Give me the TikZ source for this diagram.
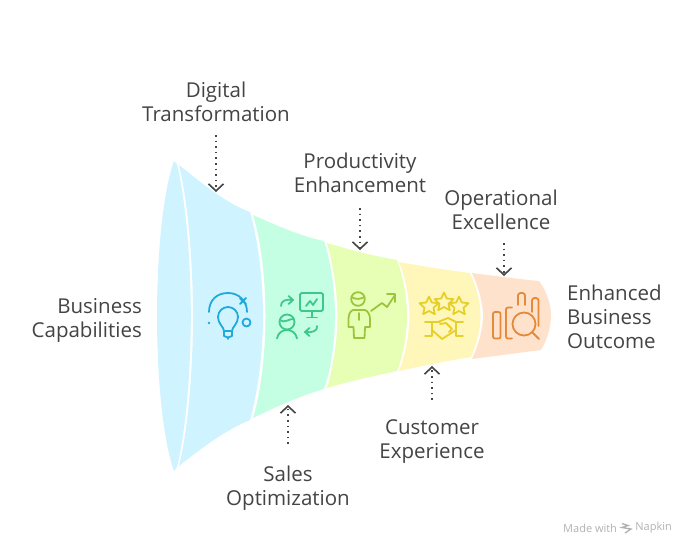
\documentclass[tikz,border=0pt]{standalone}
\usepackage{fontspec}
\setmainfont{Open Sans}
\usetikzlibrary{arrows.meta}
\definecolor{cblue}{HTML}{D0F4FF}
\definecolor{cgreen}{HTML}{C5FFE3}
\definecolor{clime}{HTML}{E6FFB5}
\definecolor{cyel}{HTML}{FFF7B9}
\definecolor{corg}{HTML}{FFE2CB}
\definecolor{iblue}{HTML}{1FA9DC}
\definecolor{igreen}{HTML}{3CC98B}
\definecolor{ilime}{HTML}{9CC53D}
\definecolor{iyel}{HTML}{E6CF2A}
\definecolor{iorg}{HTML}{E5893B}
\definecolor{ink}{HTML}{444444}
\tikzset{
  x=1pt,y=-1pt,
  lbl/.style={text=ink,font=\fontsize{20.5}{24}\selectfont,inner sep=0pt,align=center},
  conn/.style={draw=ink,line width=1.6pt,dash pattern=on 1.6pt off 4pt,-{Straight Barb[length=7pt,width=15pt,line width=1.6pt]}},
  ic/.style={line width=1.8pt,line cap=round,line join=round}
}
\begin{document}
\begin{tikzpicture}
\useasboundingbox (0,0) rectangle (695,557);
\fill[white] (0,0) rectangle (695,557);
% funnel
\fill[cblue] (174,161) .. controls (162,195) and (157,260) .. (157,316) .. controls (157,372) and (162,437) .. (174,471) -- (177,467) .. controls (186,430) and (190.8,370) .. (190.8,316) .. controls (190.8,262) and (186,202) .. (177,164) -- cycle;
\fill[cblue] (179,165) .. controls (205,186) and (228,204) .. (250,212) .. controls (258,240) and (263,280) .. (263,316) .. controls (263,352) and (258,392) .. (250,420) .. controls (226,430) and (204,446) .. (179,466) .. controls (188,430) and (193,370) .. (193,316) .. controls (193,262) and (188,202) .. (179,165) -- cycle;
\fill[cgreen] (253,215) .. controls (278,226) and (300,236) .. (324,241) .. controls (331,262) and (335,292) .. (335,316) .. controls (335,340) and (331,370) .. (324,389) .. controls (300,396) and (278,406) .. (253,418) .. controls (261,392) and (265.5,352) .. (265.5,316) .. controls (265.5,280) and (261,240) .. (253,215) -- cycle;
\fill[clime] (327,243) .. controls (350,250) and (374,256) .. (397,260) .. controls (403,276) and (407,298) .. (407,316) .. controls (407,334) and (403,356) .. (397,371) .. controls (374,376) and (350,381) .. (327,388) .. controls (333,368) and (337.5,340) .. (337.5,316) .. controls (337.5,292) and (333,264) .. (327,243) -- cycle;
\fill[cyel] (399,262) .. controls (422,266) and (446,270) .. (470,273) .. controls (476,286) and (480.5,302) .. (480.5,316) .. controls (480.5,330) and (476,346) .. (471,357) .. controls (446,361) and (422,366) .. (399,371) .. controls (405,356) and (409.5,334) .. (409.5,316) .. controls (409.5,298) and (405,276) .. (399,262) -- cycle;
\fill[corg] (472,273) .. controls (495,276) and (518,279) .. (539,281) .. controls (546,290) and (551,304) .. (551,315) .. controls (551,327) and (547,340) .. (541,350) .. controls (518,353) and (495,356) .. (472,359) .. controls (478,346) and (483,330) .. (483,316) .. controls (483,302) and (478,286) .. (472,273) -- cycle;
% bulb icon
\begin{scope}[ic,draw=iblue,fill=iblue]
\draw (209,312) .. controls (209,300) and (217,293) .. (228,293) .. controls (239,293) and (247,301) .. (247,312);
\draw (240,304) -- (246,298) (240,298.5) -- (246,304);
\fill (209,323) circle (1.4);
\draw (246.5,322.5) circle (4);
\draw (224,331) .. controls (224,327) and (218,324) .. (218,317) .. controls (218,311) and (223,307) .. (228,307) .. controls (233,307) and (238,311) .. (238,317) .. controls (238,324) and (232,327) .. (232,331) -- (232,336) -- (228,337.5) -- (224,336) -- cycle;
\draw (224,331) -- (232,331) (228,337.5) -- (228,339);
\end{scope}
% sales icon
\begin{scope}[ic,draw=igreen]
\draw[rounded corners=1.5] (300,293) rectangle (323,311);
\draw (312,311) -- (312,317) (307,317.5) -- (317,317.5);
\draw (306,306) -- (310,301) -- (313,305) -- (317,299);
\draw (281,306) .. controls (281,301) and (285,299) .. (292,300);
\draw (288.5,296) -- (293,300) -- (288.5,304);
\draw (317,326) .. controls (318,331) and (312,333) .. (305,332);
\draw (309.5,328) -- (305,332) -- (309.5,336);
\draw (287,322) circle (7.5);
\draw (280,320) .. controls (284,324) and (290,318) .. (294,319);
\draw (277,338.5) .. controls (278,333) and (282,330) .. (287,330) .. controls (292,330) and (296,333) .. (297,338.5);
\end{scope}
% productivity icon
\begin{scope}[ic,draw=ilime]
\draw (358,299) circle (6.8);
\draw (351.5,297) .. controls (356,300) and (361,299) .. (364.5,297);
\draw (353,310) -- (365,310) .. controls (368,311) and (370,315) .. (370,319) -- (370,327) -- (365,327) -- (364.5,338) -- (354,338) -- (353.5,327) -- (348.5,327) -- (348.5,319) .. controls (348.5,315) and (350,311) .. (353,310) -- cycle;
\draw (359,313) -- (359,320);
\draw (371,311) -- (382,303) -- (387,307) -- (395,295);
\draw (387,294) -- (395,294) -- (395,302);
\end{scope}
% customer icon
\begin{scope}[ic,draw=iyel]
\foreach \cx/\cy in {429/306,444/302,459/306}{
  \draw (\cx+0,\cy-9.5) -- (\cx+2.8,\cy-3.5) -- (\cx+9.5,\cy-2.8) -- (\cx+4.5,\cy+1.8) -- (\cx+5.8,\cy+8.2) -- (\cx+0,\cy+5) -- (\cx-5.8,\cy+8.2) -- (\cx-4.5,\cy+1.8) -- (\cx-9.5,\cy-2.8) -- (\cx-2.8,\cy-3.5) -- cycle;
}
\draw (425,322) -- (440,322) (432,322) -- (432,336) (425,336) -- (432,336);
\draw (463,322) -- (456,322) (456,322) -- (456,336) (456,336) -- (463,336);
\draw (432,330) -- (442,339) -- (456,330);
\draw (438,322) -- (448,318) -- (456,322);
\draw (440,324) -- (446,323) -- (452,329) -- (449,332);
\end{scope}
% operational icon
\begin{scope}[ic,draw=iorg]
\draw[rounded corners=2] (493,312) rectangle (500.5,338.5);
\draw[rounded corners=2] (512,307.5) -- (506,307.5) -- (506,338.5) -- (512,338.5);
\draw[rounded corners=2.5] (518,305) -- (518,293) -- (525,293) -- (525,305);
\draw[rounded corners=2.5] (532,312) -- (532,298) -- (538.5,298) -- (538.5,326);
\draw (524,324) circle (11.5);
\draw (532,332) -- (539,339);
\end{scope}
% labels
\node[lbl] (digital) at (216,101.5) {Digital\\Transformation};
\node[lbl] (prod) at (360,173) {Productivity\\Enhancement};
\node[lbl] (oper) at (501,210) {Operational\\Excellence};
\node[lbl] (cust) at (432,441.5) {Customer\\Experience};
\node[lbl] (sales) at (288,488) {Sales\\Optimization};
\node[lbl,align=right,anchor=east] (biz) at (142,320.5) {Business\\Capabilities};
\node[lbl,align=left,anchor=west] (out) at (567,317) {Enhanced\\Business\\Outcome};
% connectors
\coordinate (a1) at (216,135); \coordinate (a2) at (216,192);
\coordinate (b1) at (360,208); \coordinate (b2) at (360,250);
\coordinate (c1) at (504,243); \coordinate (c2) at (504,276);
\coordinate (d1) at (432,400); \coordinate (d2) at (432,366);
\coordinate (e1) at (288,444); \coordinate (e2) at (288,405);
\draw[conn] (a1) -- (a2);
\draw[conn] (b1) -- (b2);
\draw[conn] (c1) -- (c2);
\draw[conn] (d1) -- (d2);
\draw[conn] (e1) -- (e2);
% credit
\node[text=black!30,font=\fontsize{11}{13}\selectfont,inner sep=0pt,anchor=west] (made) at (563,528) {Made with};
\node[text=black!30,font=\fontsize{11}{13}\selectfont,inner sep=0pt,anchor=east] (napkin) at (672,528) {Napkin};
\draw[black!30,line width=1.3pt] (622,523.5) -- (628,525.5) -- (622,527.5) -- (631,529) -- (625,533);
\end{tikzpicture}
\end{document}
